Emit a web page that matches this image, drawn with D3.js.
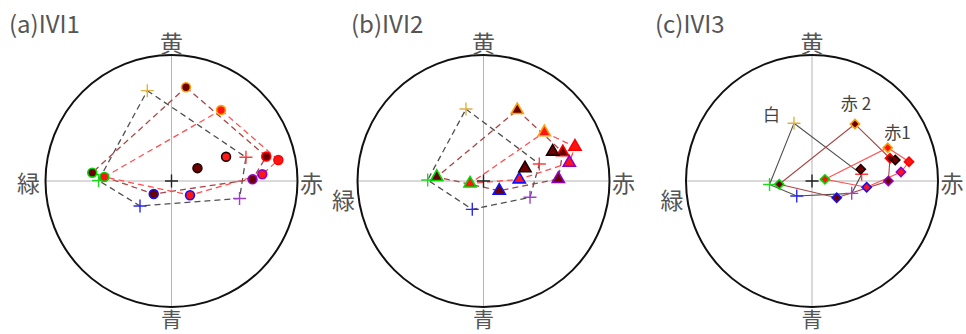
<!DOCTYPE html>
<html>
<head>
<meta charset="utf-8">
<script src="https://cdn.jsdelivr.net/npm/d3@7/dist/d3.min.js"></script>
<style>
  html, body { margin: 0; padding: 0; background: #fff; }
  svg { display: block; }
  text { font-family: "Noto Sans CJK JP", "Noto Sans", sans-serif; }
</style>
</head>
<body>
<svg id="chart" width="966" height="334"></svg>
<script>
// Chromaticity diagrams: each panel plots the object colour under five
// illuminants (黄, 赤, 紫, 青, 緑), in a hue plane with axes 黄/青 and 赤/緑.
const panelTitles = ["(a)IVI1", "(b)IVI2", "(c)IVI3"];
const axisLabels = { top: "黄", right: "赤", bottom: "青", left: "緑" };
const illuminants = ["黄", "赤", "紫", "青", "緑"];
const seriesNames = ["白", "赤 2", "赤1"];

// [a*, b*]-like coordinates, one point per illuminant (黄, 赤, 紫, 青, 緑)
const white1 = [[-19.2, 71.7], [59.1, 18.8], [54.0, -13.9], [-25.0, -19.8], [-57.9, 0.4]];
const red2_1 = [[11.5, 74.4], [75.2, 19.4], [64.3, 1.3], [-14.1, -10.3], [-62.9, 6.6]];
const red1_1 = [[39.3, 56.3], [84.8, 16.7], [72.1, 5.3], [14.7, -11.3], [-53.3, 3.2]];

const white2 = [[-13.9, 57.1], [44.3, 13.5], [36.9, -12.9], [-8.9, -22.5], [-44.3, 0.8]];
const red2_2 = [[26.8, 56.3], [62.9, 22.8], [59.4, 1.6], [12.5, -7.7], [-37.1, 3.2]];
const red1_2 = [[48.3, 38.7], [72.6, 27.2], [68.1, 14.5], [28.4, 1.3], [-10.7, -2.0]];

const white3 = [[-14.3, 45.8], [39.4, 5.3], [31.5, -9.8], [-12.1, -11.9], [-33.7, -2.8]];
const red2_3 = [[34.1, 45.2], [61.9, 18.0], [60.6, 0.0], [19.6, -13.3], [-26.0, -2.6]];
const red1_3 = [[60.1, 26.4], [77.0, 15.3], [70.6, 7.1], [43.4, -5.0], [10.3, 1.3]];

// the two red objects under white light: [赤 2, 赤1]
const underWhite1 = [[20.6, 10.2], [43.3, 19.2]];
const underWhite2 = [[32.9, 10.1], [54.9, 23.3]];
const underWhite3 = [[38.7, 9.3], [66.1, 16.7]];

// name labels placed in panel (c)
const nameLabelPos = [[-32.1, 53.2], [34.9, 62.3], [67.9, 39.3]];

const panels = [
  { title: panelTitles[0], white: white1, red2: red2_1, red1: red1_1, w: underWhite1, mark: "circle", dashed: true, wFill: ["#6e0000", "#ff1a1a"] },
  { title: panelTitles[1], white: white2, red2: red2_2, red1: red1_2, w: underWhite2, mark: "triangle", dashed: true, wFill: ["#6e0000", "#6e0000"] },
  { title: panelTitles[2], white: white3, red2: red2_3, red1: red1_3, w: underWhite3, mark: "diamond", dashed: false, wFill: ["#6e0000", "#6e0000"] }
];

// styling
const crossColors = ["#e0b040", "#ff3a3a", "#a040d0", "#2828f0", "#20d820"];
const edgeColors = ["#ffa000", "#ff0000", "#9000c8", "#1010ff", "#00d800"];
const darkFill = "#6a0000";
const redFill = "#ff1414";
const lineColors = { white: "#505050", red2: "#a84444", red1: "#ff5050" };

const layout = { cx: [171.5, 483.5, 812], cy: 181, r: 126, titleX: [9, 351, 655] };

const svg = d3.select("#chart");

panels.forEach((p, i) => {
  const cx = layout.cx[i], cy = layout.cy, r = layout.r;
  const x = d3.scaleLinear().domain([-100, 100]).range([cx - r, cx + r]);
  const y = d3.scaleLinear().domain([-100, 100]).range([cy + r, cy - r]);
  const g = svg.append("g");

  // crosshair axes
  g.append("line").attr("x1", x(-100)).attr("x2", x(100)).attr("y1", y(0)).attr("y2", y(0))
    .attr("stroke", "#b4b4b4").attr("stroke-width", 1);
  g.append("line").attr("x1", x(0)).attr("x2", x(0)).attr("y1", y(-100)).attr("y2", y(100))
    .attr("stroke", "#b4b4b4").attr("stroke-width", 1);

  // outer circle
  g.append("circle").attr("cx", x(0)).attr("cy", y(0)).attr("r", x(100) - x(0))
    .attr("fill", "none").attr("stroke", "#111").attr("stroke-width", 2);

  // closed polygons through the five illuminants
  const line = d3.line().x(d => x(d[0])).y(d => y(d[1])).curve(d3.curveLinearClosed);
  [["white", p.white], ["red2", p.red2], ["red1", p.red1]].forEach(([k, pts]) => {
    g.append("path").attr("d", line(pts))
      .attr("fill", "none")
      .attr("stroke", lineColors[k])
      .attr("stroke-width", p.dashed ? 1.3 : 1.1)
      .attr("stroke-dasharray", p.dashed ? "6,4" : null);
  });

  // cross markers for the white object
  const crossPath = s => `M${-s},0H${s}M0,${-s}V${s}`;
  p.white.forEach((d, j) => {
    g.append("path").attr("d", crossPath(6.5))
      .attr("transform", `translate(${x(d[0])},${y(d[1])})`)
      .attr("stroke", crossColors[j]).attr("stroke-width", 1.4).attr("fill", "none");
  });

  const shape = p.mark === "circle" ? d3.symbolCircle
              : p.mark === "triangle" ? d3.symbolTriangle : d3.symbolSquare;
  const size = p.mark === "circle" ? 62 : p.mark === "triangle" ? 64 : 42;
  const rot = p.mark === "diamond" ? 45 : 0;
  const sym = d3.symbol().type(shape).size(size);

  const drawMarks = (pts, fill, edges) => {
    pts.forEach((d, j) => {
      g.append("path").attr("d", sym())
        .attr("transform", `translate(${x(d[0])},${y(d[1])}) rotate(${rot})`)
        .attr("fill", fill).attr("stroke", edges[j]).attr("stroke-width", 1.6);
    });
  };
  drawMarks(p.red2, darkFill, edgeColors);
  drawMarks(p.red1, redFill, edgeColors);
  p.w.forEach((d, j) => {
    g.append("path").attr("d", sym())
      .attr("transform", `translate(${x(d[0])},${y(d[1])}) rotate(${rot})`)
      .attr("fill", p.wFill[j]).attr("stroke", "#1a0000").attr("stroke-width", 1.6);
  });

  // origin marker
  g.append("path").attr("d", crossPath(6.5))
    .attr("transform", `translate(${x(0)},${y(0)})`)
    .attr("stroke", "#222").attr("stroke-width", 1.4);

  // hue-axis labels
  const lab = (tx, ty, t, fs) => g.append("text").attr("x", tx).attr("y", ty)
    .attr("text-anchor", "middle").attr("dominant-baseline", "central")
    .attr("font-size", fs).attr("fill", "#555").text(t);
  lab(x(0), 42, axisLabels.top, 23);
  lab(x(0), 318, axisLabels.bottom, 21);
  lab(x(100) + 14, y(0) + 1, axisLabels.right, 23);
  lab(i === 0 ? x(-100) - 17 : x(-100) - 14, i === 0 ? y(0) + 1 : y(0) + 18, axisLabels.left, 23);

  // panel title
  g.append("text").attr("x", layout.titleX[i]).attr("y", 33)
    .attr("font-size", 24).attr("fill", "#555").text(p.title);

  if (i === 2) {
    seriesNames.forEach((n, j) => {
      g.append("text").attr("x", x(nameLabelPos[j][0])).attr("y", y(nameLabelPos[j][1]))
        .attr("text-anchor", "middle").attr("dominant-baseline", "central")
        .attr("font-size", 17).attr("fill", "#444").text(n);
    });
  }
});
</script>
</body>
</html>
